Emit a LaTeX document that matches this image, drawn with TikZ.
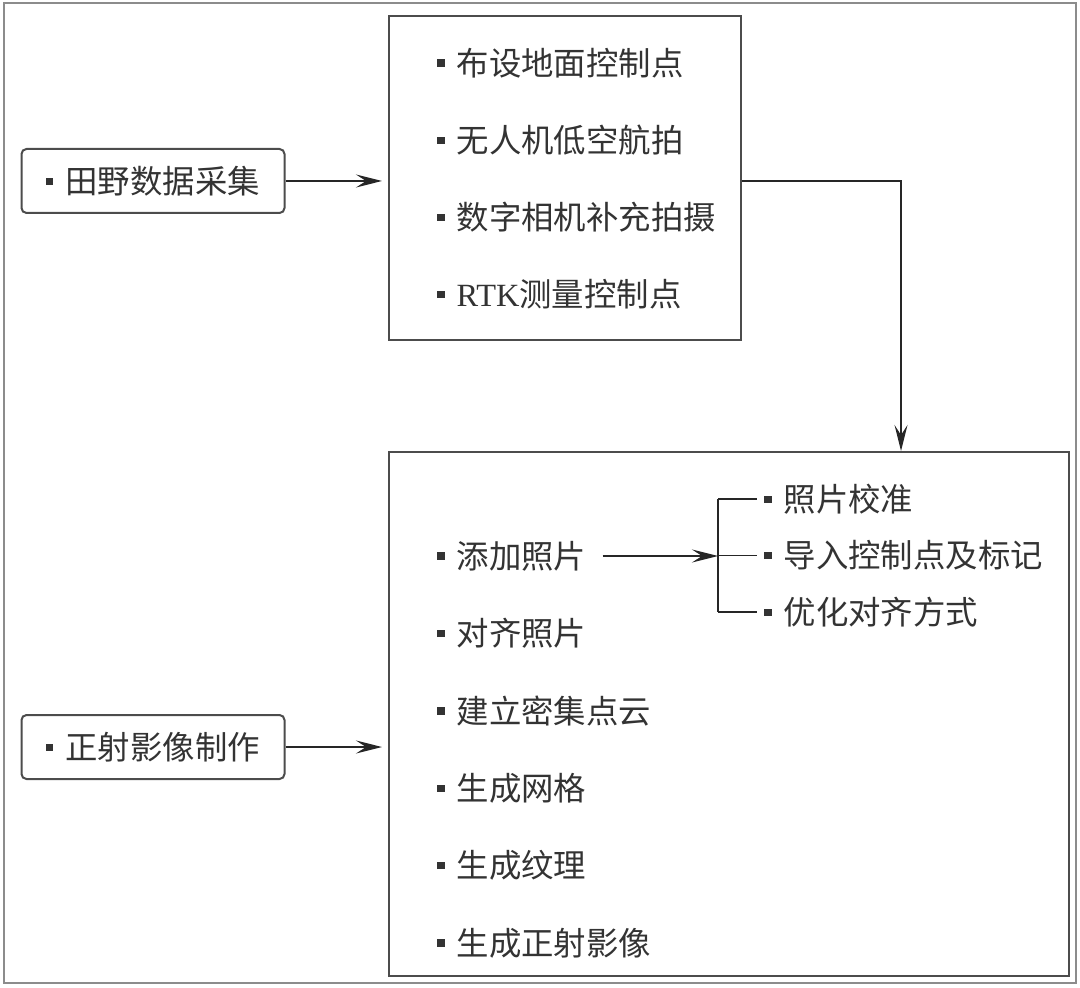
\documentclass[tikz,border=0pt]{standalone}
\usepackage{fontspec}
\usetikzlibrary{positioning}
\usetikzlibrary{arrows.meta}
\newfontfamily\cjk{Noto Sans CJK SC}
\newfontfamily\latin{Liberation Serif}
\newcommand\blt{\raisebox{4.3pt}{\rule{3.6pt}{3.6pt}}\hspace{6pt}}

\tikzset{
item/.style={anchor=west,inner sep=0pt,text=black!80,font=\cjk\fontsize{16.2}{19}\selectfont},
stage/.style={draw=black!70,line width=1pt,rounded corners=2.5pt,minimum width=131.5pt,minimum height=32pt,inner sep=0pt,text=black!80,font=\cjk\fontsize{16.2}{19}\selectfont},
panel/.style={draw=black!70,line width=1pt,inner sep=0pt},
arr/.style={-{Stealth[length=13pt,width=6.5pt,inset=5pt]},line width=0.9pt,draw=black!85},
link/.style={line width=0.9pt,draw=black!85},
}

\begin{document}
\begin{tikzpicture}[x=0.5pt,y=-0.5pt]
\useasboundingbox (0,0) rectangle (1080,988);
\node[draw=black!45,line width=1pt,minimum width=536pt,minimum height=490pt,inner sep=0pt] (frame) at (540,493) {};

%panels
\node[panel,minimum width=176pt,minimum height=162pt] (collect) at (565,178) {};
\node[panel,minimum width=340pt,minimum height=262pt] (process) at (729,714) {};

%stages
\node[stage] (field) at (153,181) {\blt 田野数据采集};
\node[stage] (ortho) at (153,747) {\blt 正射影像制作};

\foreach \t [count=\i] in {布设地面控制点,无人机低空航拍,数字相机补充拍摄,{{\latin RTK}测量控制点}}{%
\node[item] (c\i) at (437,{63+77*(\i-1)}) {\blt\t};
}

\foreach \t [count=\i] in {添加照片,对齐照片,建立密集点云,生成网格,生成纹理,生成正射影像}{%
\node[item] (p\i) at (437,{556+77.4*(\i-1)}) {\blt\t};
}

\foreach \t [count=\i] in {照片校准,导入控制点及标记,优化对齐方式}{%
\node[item] (s\i) at (764,{499+56.5*(\i-1)}) {\blt\t};
}

%arrows
\draw[arr,shorten >=3pt] (field.east) -- (field.east -| collect.west);
\draw[arr,shorten >=3pt] (ortho.east) -- (ortho.east -| process.west);

\coordinate (turn) at (901,181);
\draw[arr] (collect.east |- turn) -- (turn) -- (process.north -| turn);

%bracket
\coordinate (fork) at (718,556);
\draw[arr] ([xshift=8pt]p1.east) -- (fork);
\draw[link] (s1.west -| fork) -- (s3.west -| fork);
\foreach \i in {1,2,3}{%
\draw[link] (s\i.west -| fork) -- ([xshift=-3.5pt]s\i.west);
}

\end{tikzpicture}
\end{document}
